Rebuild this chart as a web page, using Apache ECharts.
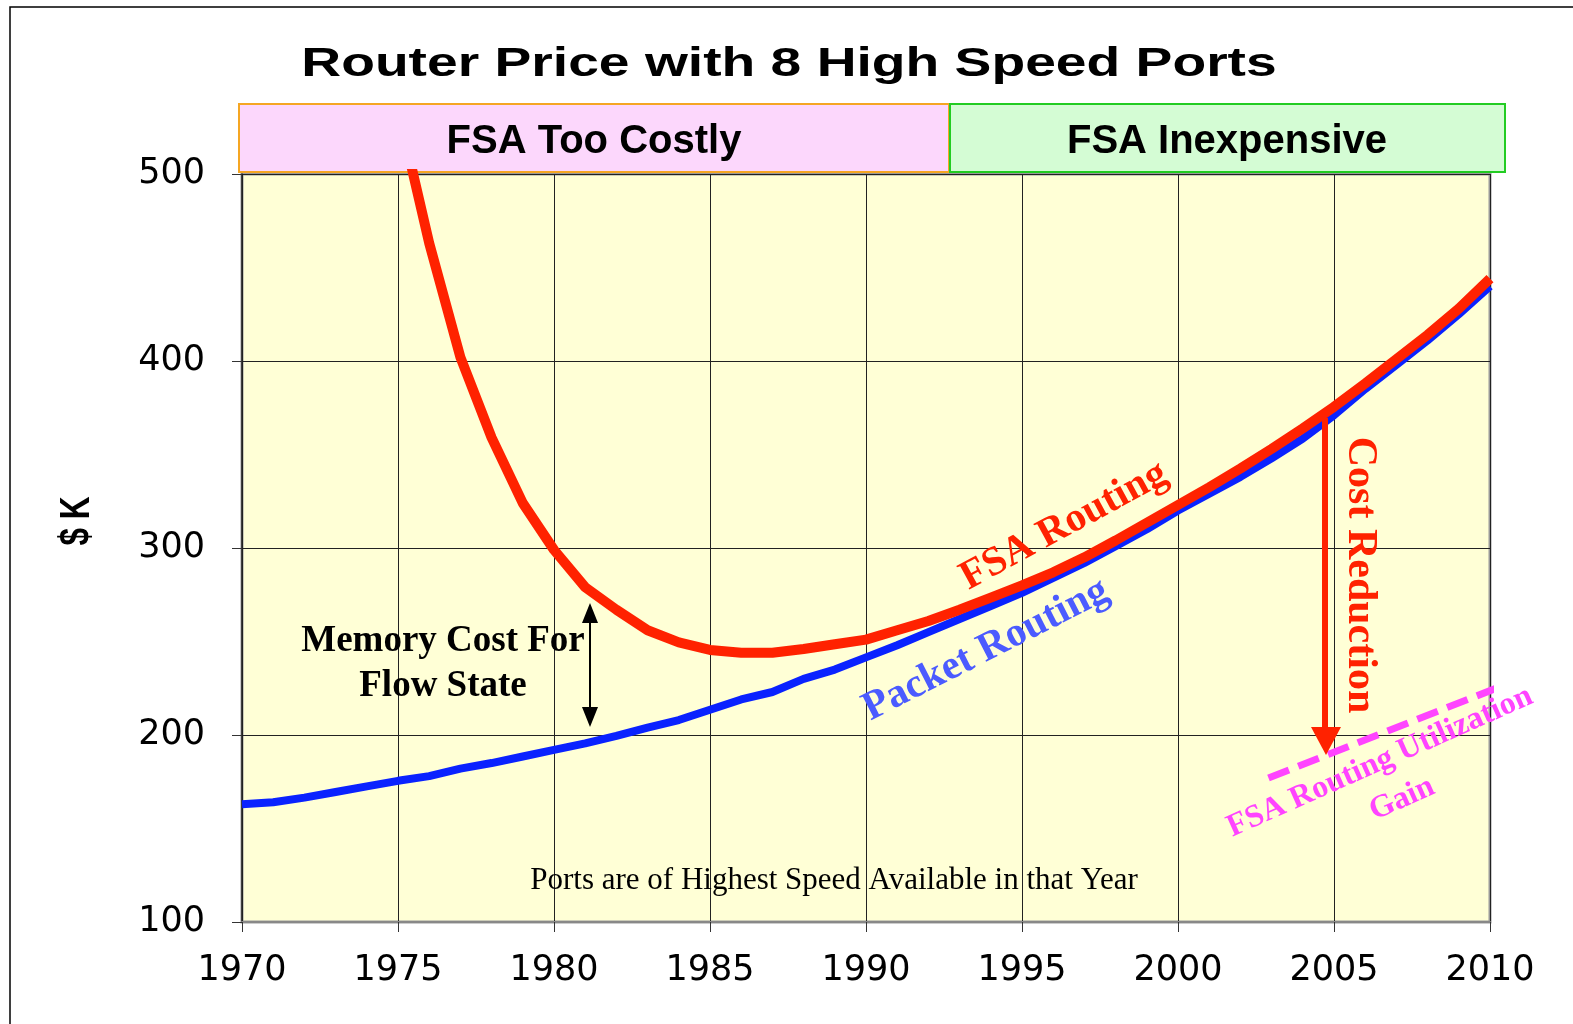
<!DOCTYPE html>
<html>
<head>
<meta charset="utf-8">
<title>Router Price with 8 High Speed Ports</title>
<script src="https://cdn.jsdelivr.net/npm/echarts@6/dist/echarts.min.js"></script>
<style>
  html, body { margin: 0; padding: 0; background: #fff; }
  #chart { width: 1573px; height: 1024px; }
</style>
</head>
<body>
<div id="chart"></div>
<script>
// 数据 ($K per year)
const packetYears = [1970, 1971, 1972, 1973, 1974, 1975, 1976, 1977, 1978, 1979,
  1980, 1981, 1982, 1983, 1984, 1985, 1986, 1987, 1988, 1989,
  1990, 1991, 1992, 1993, 1994, 1995, 1996, 1997, 1998, 1999,
  2000, 2001, 2002, 2003, 2004, 2005, 2006, 2007, 2008, 2009, 2010];
const packetRouting = [163, 164, 166.5, 169.5, 172.5, 175.5, 178, 182, 185, 188.5,
  192, 195.5, 199.5, 204, 208, 213.5, 219, 223, 230, 235,
  241.5, 248, 255, 262, 269, 276, 284, 292, 301, 310,
  320, 329, 338, 348, 358.5, 371, 385, 398, 411, 425, 440];

const fsaYears = [1975, 1976, 1977, 1978, 1979,
  1980, 1981, 1982, 1983, 1984, 1985, 1986, 1987, 1988, 1989,
  1990, 1991, 1992, 1993, 1994, 1995, 1996, 1997, 1998, 1999,
  2000, 2001, 2002, 2003, 2004, 2005, 2006, 2007, 2008, 2009, 2010];
const fsaRouting = [535, 463, 402, 359, 324,
  299, 279, 267, 256, 249.5, 245.5, 244, 244, 246, 248.5,
  251, 256, 261, 267, 273.5, 280, 287, 295, 304, 313.5,
  323, 332.5, 342.5, 353, 364, 375.5, 388, 401, 414, 428, 444];

const gainYears = [2002.9, 2010.2];
const gainValues = [177, 225];

const xTicks = { min: 1970, max: 2010, interval: 5 };
const yTicks = { min: 100, max: 500, interval: 100 };

let myChart = echarts.init(document.getElementById('chart'));

const serif = '"Liberation Serif", "Times New Roman", serif';
const sans = '"Liberation Sans", Arial, sans-serif';
const tickFont = '"DejaVu Sans", sans-serif';

function pairs(xs, ys) {
  return xs.map((x, i) => [x, ys[i]]);
}

var option = {
  animation: false,
  backgroundColor: '#ffffff',
  grid: {
    left: 242,
    right: 83,
    top: 174,
    bottom: 102,
    show: true,
    backgroundColor: '#FFFFD6',
    borderColor: '#999999',
    borderWidth: 3
  },
  xAxis: {
    type: 'value',
    min: xTicks.min,
    max: xTicks.max,
    interval: xTicks.interval,
    axisLine: { show: true, lineStyle: { color: '#888888', width: 2 } },
    axisTick: { show: true, length: 10, lineStyle: { color: '#333333' } },
    axisLabel: {
      margin: 31,
      fontSize: 35,
      fontFamily: tickFont,
      color: '#000',
      formatter: function (v) { return String(v); }
    },
    splitLine: { show: true, lineStyle: { color: '#222222', width: 1 } }
  },
  yAxis: {
    type: 'value',
    min: yTicks.min,
    max: yTicks.max,
    interval: yTicks.interval,
    axisLine: { show: true, lineStyle: { color: '#222222', width: 1.5 } },
    axisTick: { show: true, length: 10, lineStyle: { color: '#333333' } },
    axisLabel: {
      margin: 37,
      fontSize: 35,
      fontFamily: tickFont,
      color: '#000'
    },
    splitLine: { show: true, lineStyle: { color: '#222222', width: 1 } }
  },
  series: [
    {
      name: 'Packet Routing',
      type: 'line',
      data: pairs(packetYears, packetRouting),
      symbol: 'none',
      lineStyle: { color: '#0A22FF', width: 8 },
      z: 3
    },
    {
      name: 'FSA Routing',
      type: 'line',
      data: pairs(fsaYears, fsaRouting),
      symbol: 'none',
      lineStyle: { color: '#FF2200', width: 10 },
      z: 4
    },
    {
      name: 'FSA Routing Utilization Gain',
      type: 'line',
      data: pairs(gainYears, gainValues),
      symbol: 'none',
      clip: false,
      lineStyle: { color: '#FF44FF', width: 7, type: [22, 10], cap: 'butt' },
      z: 5
    }
  ],
  graphic: [
    // 外框
    { type: 'rect', shape: { x: 10, y: 7, width: 1700, height: 1200 },
      style: { fill: null, stroke: '#000', lineWidth: 1.5 }, silent: true },
    // 标题
    { type: 'text', x: 789, y: 65, scaleX: 1.38,
      style: { text: 'Router Price with 8 High Speed Ports', font: 'bold 40px ' + sans,
        fill: '#000', align: 'center', verticalAlign: 'middle' } },
    // header boxes
    { type: 'rect', shape: { x: 239, y: 104, width: 710, height: 68 },
      style: { fill: '#FCD7FC', stroke: '#F5A623', lineWidth: 2 } },
    { type: 'text', x: 594, y: 142,
      style: { text: 'FSA Too Costly', font: 'bold 40px ' + sans,
        fill: '#000', align: 'center', verticalAlign: 'middle' } },
    { type: 'rect', shape: { x: 950, y: 104, width: 555, height: 68 },
      style: { fill: '#D4FCD4', stroke: '#22CC22', lineWidth: 2 } },
    { type: 'text', x: 1227, y: 142,
      style: { text: 'FSA Inexpensive', font: 'bold 40px ' + sans,
        fill: '#000', align: 'center', verticalAlign: 'middle' } },
    // y轴名称
    { type: 'text', x: 77, y: 521, rotation: Math.PI / 2, scaleX: 0.75,
      style: { text: '$ K', font: 'bold 42px ' + sans,
        fill: '#000', align: 'center', verticalAlign: 'middle' } },
    // annotations
    { type: 'text', x: 443, y: 641, z: 100,
      style: { text: 'Memory Cost For', font: 'bold 37px ' + serif,
        fill: '#000', align: 'center', verticalAlign: 'middle' } },
    { type: 'text', x: 443, y: 686, z: 100,
      style: { text: 'Flow State', font: 'bold 37px ' + serif,
        fill: '#000', align: 'center', verticalAlign: 'middle' } },
    { type: 'line', z: 100, shape: { x1: 590, y1: 615, x2: 590, y2: 715 },
      style: { stroke: '#000', lineWidth: 2 } },
    { type: 'polygon', z: 100, shape: { points: [[590, 603], [582, 623], [598, 623]] },
      style: { fill: '#000' } },
    { type: 'polygon', z: 100, shape: { points: [[590, 727], [582, 707], [598, 707]] },
      style: { fill: '#000' } },
    { type: 'text', x: 834, y: 881, z: 100,
      style: { text: 'Ports are of Highest Speed Available in that Year', font: '31px ' + serif,
        fill: '#000', align: 'center', verticalAlign: 'middle' } },
    { type: 'text', x: 1064, y: 526, z: 100, rotation: 28.5 * Math.PI / 180,
      style: { text: 'FSA Routing', font: 'bold 41px ' + serif,
        fill: '#FF2200', align: 'center', verticalAlign: 'middle' } },
    { type: 'text', x: 986, y: 650, z: 100, rotation: 27 * Math.PI / 180,
      style: { text: 'Packet Routing', font: 'bold 41px ' + serif,
        fill: '#4B5BFF', align: 'center', verticalAlign: 'middle' } },
    { type: 'text', x: 1360, y: 575, z: 100, rotation: -Math.PI / 2,
      style: { text: 'Cost Reduction', font: 'bold 42px ' + serif,
        fill: '#FF2200', align: 'center', verticalAlign: 'middle' } },
    { type: 'line', z: 100, shape: { x1: 1325, y1: 418, x2: 1325, y2: 730 },
      style: { stroke: '#FF2200', lineWidth: 6 } },
    { type: 'polygon', z: 100, shape: { points: [[1311, 727], [1341, 727], [1326, 755]] },
      style: { fill: '#FF2200' } },
    { type: 'text', x: 1380, y: 762, z: 100, rotation: 24 * Math.PI / 180,
      style: { text: 'FSA Routing Utilization', font: 'bold 32px ' + serif,
        fill: '#FF44FF', align: 'center', verticalAlign: 'middle' } },
    { type: 'text', x: 1402, y: 799, z: 100, rotation: 24 * Math.PI / 180,
      style: { text: 'Gain', font: 'bold 32px ' + serif,
        fill: '#FF44FF', align: 'center', verticalAlign: 'middle' } }
  ]
};
myChart.setOption(option);
</script>
</body>
</html>
